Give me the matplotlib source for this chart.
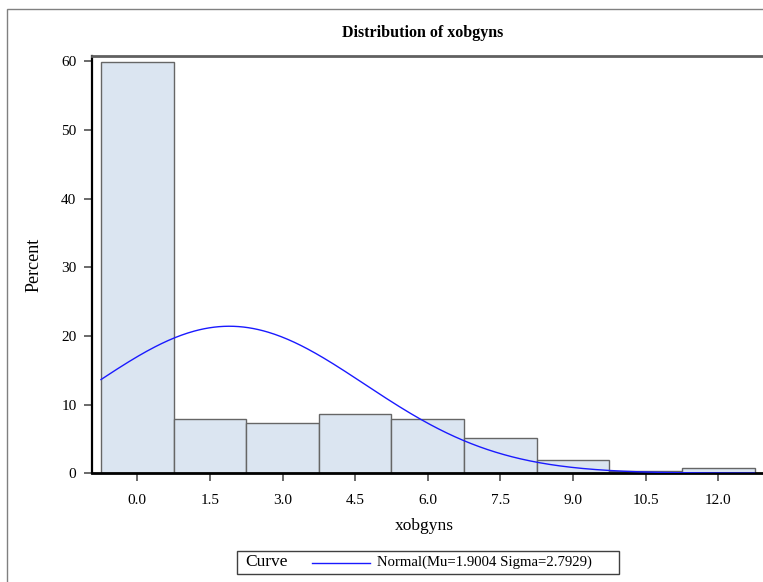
import numpy as np
import matplotlib
matplotlib.use("Agg")
import matplotlib.pyplot as plt
from matplotlib.patches import Rectangle
from matplotlib.lines import Line2D

# histogram of xobgyns (percent per bin, bins centred on midpoints)
midpoints = [0.0, 1.5, 3.0, 4.5, 6.0, 7.5, 9.0, 10.5, 12.0]
percents = [59.9, 7.9, 7.4, 8.6, 7.9, 5.1, 1.9, 0.4, 0.8]
bin_width = 1.5
mu = 1.9004
sigma = 2.7929
tick_labels = ["0.0", "1.5", "3.0", "4.5", "6.0", "7.5", "9.0", "10.5", "12.0"]

plt.rcParams["font.family"] = ["Liberation Serif", "DejaVu Serif"]

W, H = 763, 582
fig = plt.figure(figsize=(W / 100, H / 100), dpi=100)

# outer graph frame
fig.patches.append(Rectangle((7 / W, -0.1), 1.2, 1 - 9 / H + 0.1,
                             transform=fig.transFigure, fill=False,
                             edgecolor="#808080", linewidth=1.0))

ax = fig.add_axes([91.7 / W, 1 - 473.3 / H, (770 - 91.7) / W, (473.3 - 56) / H])

ax.bar(midpoints, percents, width=bin_width, color="#dbe5f1",
       edgecolor="#666666", linewidth=1.0, zorder=2)

# fitted normal curve, scaled to percent per bin
xs = np.linspace(midpoints[0] - bin_width / 2, midpoints[-1] + bin_width / 2, 400)
ys = 100 * bin_width * np.exp(-0.5 * ((xs - mu) / sigma) ** 2) / (sigma * np.sqrt(2 * np.pi))
ax.plot(xs, ys, color="#1a1aff", linewidth=1.0, zorder=3)

ax.set_xlim(-0.942, 13.07)
ax.set_ylim(0, 60.8)
ax.set_xticks(midpoints)
ax.set_xticklabels(tick_labels)
ax.set_yticks([0, 10, 20, 30, 40, 50, 60])

ax.spines["left"].set_color("black")
ax.spines["left"].set_linewidth(1.6)
ax.spines["bottom"].set_color("black")
ax.spines["bottom"].set_linewidth(2.0)
ax.spines["top"].set_color("#606060")
ax.spines["top"].set_linewidth(2.0)
ax.spines["right"].set_visible(False)
ax.tick_params(axis="both", direction="out", length=6, width=1.2,
               color="#505050", labelsize=11, pad=5)
ax.tick_params(axis="x", pad=9)

fig.text(423 / W, 1 - 33 / H, "Distribution of xobgyns", ha="center",
         va="center", fontsize=11.5, fontweight="bold")
fig.text(424 / W, 1 - 526 / H, "xobgyns", ha="center", va="center", fontsize=12.5)
fig.text(34 / W, 1 - 265 / H, "Percent", ha="center", va="center",
         fontsize=13, rotation=90)

# legend box below the axis label
fig.patches.append(Rectangle((237 / W, 1 - 574 / H), (619 - 237) / W, (574 - 551) / H,
                             transform=fig.transFigure, fill=False,
                             edgecolor="#404040", linewidth=1.0))
ly = 1 - 562.5 / H
fig.text(245 / W, ly, "Curve", ha="left", va="center", fontsize=12.5)
fig.lines.append(Line2D([312 / W, 370 / W], [ly, ly], transform=fig.transFigure,
                        color="#1a1aff", linewidth=1.0))
fig.text(377 / W, ly, "Normal(Mu=%.4f Sigma=%.4f)" % (mu, sigma), ha="left",
         va="center", fontsize=10.6)

fig.savefig("out.png", dpi=100)
plt.close(fig)
